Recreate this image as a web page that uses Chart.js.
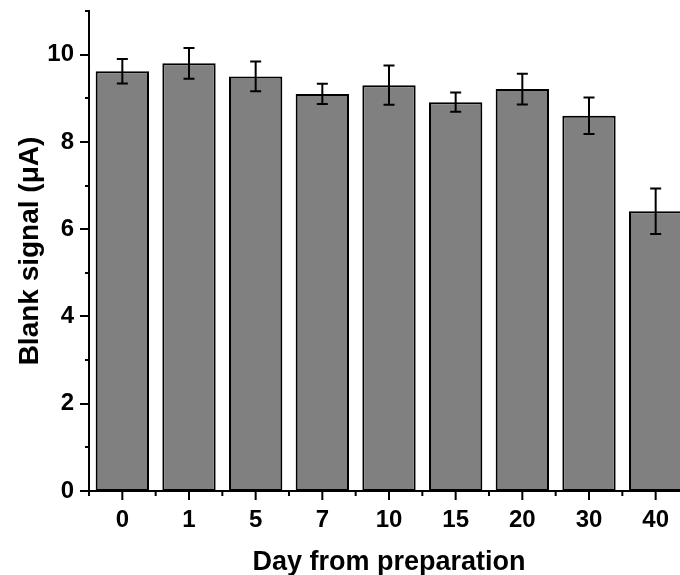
<!DOCTYPE html>
<html>
<head>
<meta charset="utf-8">
<script src="https://cdn.jsdelivr.net/npm/chart.js@4.4.1/dist/chart.umd.min.js"></script>
<style>
  html, body { margin: 0; padding: 0; background: #fff; overflow: hidden; }
  #wrap { width: 700px; height: 575px; }
</style>
</head>
<body>
<div id="wrap"><canvas id="c" width="700" height="575"></canvas></div>
<script>
const categories = ['0', '1', '5', '7', '10', '15', '20', '30', '40'];
const blankSignal = [9.62, 9.80, 9.50, 9.10, 9.30, 8.91, 9.21, 8.60, 6.41];
const errorValues = [0.28, 0.35, 0.34, 0.23, 0.45, 0.22, 0.35, 0.42, 0.52];
const yMin = 0;
const yMax = 11;
const yMajorStep = 2;

const FONT = "'Liberation Sans', Arial, Helvetica, sans-serif";

const errorBarPlugin = {
  id: 'errorBars',
  afterDatasetsDraw(chart) {
    const ctx = chart.ctx;
    const yScale = chart.scales.y;
    const meta = chart.getDatasetMeta(0);
    ctx.save();
    ctx.strokeStyle = '#000';
    ctx.lineWidth = 2;
    meta.data.forEach((bar, i) => {
      const v = blankSignal[i], e = errorValues[i];
      const yt = yScale.getPixelForValue(v + e);
      const yb = yScale.getPixelForValue(v - e);
      const cx = bar.x;
      const cap = 5.5;
      ctx.beginPath();
      ctx.moveTo(cx, yt); ctx.lineTo(cx, yb);
      ctx.moveTo(cx - cap, yt); ctx.lineTo(cx + cap, yt);
      ctx.moveTo(cx - cap, yb); ctx.lineTo(cx + cap, yb);
      ctx.stroke();
    });
    ctx.restore();
  }
};

const axisTickPlugin = {
  id: 'axisTicks',
  afterDraw(chart) {
    const ctx = chart.ctx;
    const xs = chart.scales.x, ys = chart.scales.y;
    const area = chart.chartArea;
    ctx.save();
    ctx.strokeStyle = '#000';
    ctx.lineWidth = 2;
    ctx.beginPath();
    for (let v = yMin; v <= yMax; v++) {
      const py = Math.round(ys.getPixelForValue(v));
      const len = (v % yMajorStep === 0) ? 9 : 4;
      ctx.moveTo(area.left, py); ctx.lineTo(area.left - len, py);
    }
    const n = categories.length;
    for (let i = 0; i < n; i++) {
      const px = xs.getPixelForValue(i);
      ctx.moveTo(px, area.bottom); ctx.lineTo(px, area.bottom + 9);
      let left;
      if (i === 0) left = area.left; else left = (px + xs.getPixelForValue(i - 1)) / 2;
      ctx.moveTo(left, area.bottom); ctx.lineTo(left, area.bottom + 5);
    }
    ctx.moveTo(area.right, area.bottom); ctx.lineTo(area.right, area.bottom + 5);
    ctx.stroke();
    ctx.restore();
  }
};

new Chart(document.getElementById('c'), {
  type: 'bar',
  data: {
    labels: categories,
    datasets: [{
      data: blankSignal,
      backgroundColor: '#808080',
      borderColor: '#000',
      borderWidth: 2,
      borderSkipped: false,
      categoryPercentage: 1.0,
      barPercentage: 0.8
    }]
  },
  options: {
    responsive: false,
    animation: false,
    devicePixelRatio: 1,
    layout: { padding: { top: 11, right: 11, left: 0, bottom: 0 } },
    plugins: { legend: { display: false }, tooltip: { enabled: false } },
    scales: {
      x: {
        grid: { display: false, drawTicks: false },
        border: { display: true, color: '#000', width: 2 },
        ticks: {
          color: '#000',
          padding: 15,
          font: { family: FONT, size: 24, weight: 'bold' }
        },
        title: {
          display: true,
          text: 'Day from preparation',
          color: '#000',
          font: { family: FONT, size: 27, weight: 'bold', lineHeight: 0.9 },
          padding: { top: 0, bottom: 0 }
        },
        afterFit(scale) {
          scale.height = 84;
          scale.paddingLeft = 0; scale.paddingRight = 0;
        }
      },
      y: {
        min: yMin,
        max: yMax,
        grid: { display: false, drawTicks: false },
        border: { display: true, color: '#000', width: 2 },
        ticks: {
          stepSize: 1,
          color: '#000',
          padding: 15,
          font: { family: FONT, size: 24, weight: 'bold' },
          callback: (v) => (v % yMajorStep === 0 && v <= 10) ? v : ''
        },
        title: {
          display: true,
          text: 'Blank signal (μA)',
          color: '#000',
          font: { family: FONT, size: 28, weight: 'bold' },
          padding: { top: 13, bottom: 0 }
        },
        afterFit(scale) {
          scale.width = 89;
          scale.paddingTop = 0; scale.paddingBottom = 0;
        }
      }
    }
  },
  plugins: [errorBarPlugin, axisTickPlugin]
});
</script>
</body>
</html>
